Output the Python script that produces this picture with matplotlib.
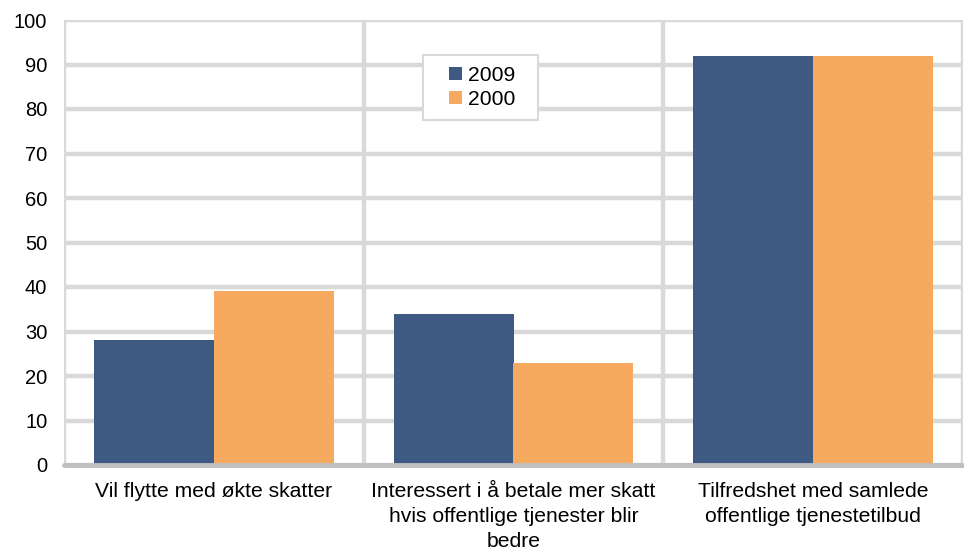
import matplotlib.pyplot as plt
import numpy as np
from matplotlib.legend_handler import HandlerPatch
from matplotlib.patches import Patch, Rectangle

# Data
categories = [
    'Vil flytte med økte skatter',
    'Interessert i å betale mer skatt\nhvis offentlige tjenester blir\nbedre',
    'Tilfredshet med samlede\noffentlige tjenestetilbud',
]
series_names = ['2009', '2000']
values_2009 = [28, 34, 92]
values_2000 = [39, 23, 92]
colors = ['#3f5a82', '#f6aa5f']

plt.rcParams['font.family'] = ['Liberation Sans', 'DejaVu Sans']

fig = plt.figure(figsize=(9.64, 5.56), dpi=100)
ax = fig.add_axes([64 / 964, 1 - 465 / 556, 899 / 964, 445 / 556])

x = np.arange(len(categories))
w = 0.4
ax.bar(x - w / 2, values_2009, w, color=colors[0], zorder=3)
ax.bar(x + w / 2, values_2000, w, color=colors[1], zorder=3)

ax.set_xlim(-0.5, len(categories) - 0.5)
ax.set_ylim(0, 100)
ax.set_yticks(range(0, 101, 10))
ax.set_xticks(x)
ax.set_xticklabels(categories, fontsize=15.2, linespacing=1.4)
ax.tick_params(axis='y', labelsize=14.5, length=0, pad=12)
ax.tick_params(axis='x', length=0, pad=12)

grid_col = '#d9d9d9'
ax.grid(axis='y', color=grid_col, linewidth=3.2, zorder=0)
for b in np.arange(-0.5, len(categories), 1.0):
    ax.axvline(b, color=grid_col, linewidth=3.2, zorder=0)

for s in ['top', 'right', 'left']:
    ax.spines[s].set_visible(False)
ax.spines['bottom'].set_color('#bfbfbf')
ax.spines['bottom'].set_linewidth(3.5)
ax.spines['bottom'].set_zorder(4)
ax.spines['bottom'].set_capstyle('round')


# kvadrat til høyre i handle-feltet
def make_square(legend, orig_handle, xdescent, ydescent, width, height, fontsize):
    s = 13 * 72 / 100
    return Rectangle((width - s - xdescent, (height - s) / 2 - ydescent), s, s)


handles = [Patch(facecolor=c, label=n + '  ') for c, n in zip(colors, series_names)]
leg = ax.legend(
    handles=handles,
    loc='upper left',
    bbox_to_anchor=(0.399, 0.921),
    fontsize=15.2,
    frameon=True,
    fancybox=False,
    handlelength=1.36,
    handleheight=0.65,
    handletextpad=0.3,
    borderpad=0.5,
    labelspacing=0.25,
    borderaxespad=0,
    handler_map={Patch: HandlerPatch(patch_func=make_square)},
)
leg.get_frame().set_edgecolor(grid_col)
leg.get_frame().set_linewidth(1.5)
leg.get_frame().set_alpha(1)
leg.set_zorder(5)

fig.savefig('out.png', dpi=100)
